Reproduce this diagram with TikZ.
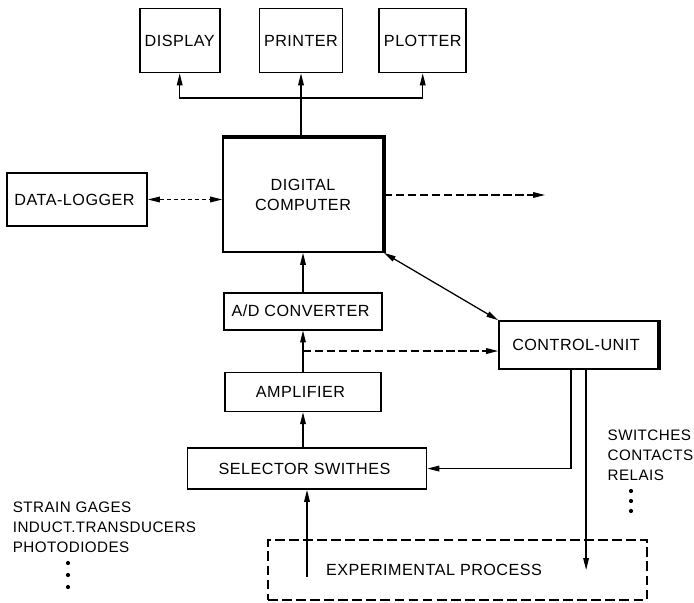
\documentclass[tikz,border=0pt]{standalone}
\usepackage{fontspec}
\setmainfont{Liberation Sans}[LetterSpace=3.0]
\usetikzlibrary{arrows.meta, positioning, calc}

\begin{document}
\begin{tikzpicture}[
    node distance=0.9cm,
    unit/.style={
        rectangle,
        draw,
        line width=1.2pt,
        align=center,
        font=\fontsize{11.5}{14.5}\selectfont
    },
    device/.style={
        unit,
        minimum width=2cm,
        minimum height=1.6cm
    },
    heavy/.style={line width=3pt},
    arrow/.style={-{Triangle[length=8.5pt,width=4pt]}, line width=0.9pt},
    twoway/.style={{Triangle[length=8.5pt,width=4pt]}-{Triangle[length=8.5pt,width=4pt]}, line width=0.9pt},
    signal/.style={arrow, dash pattern=on 6pt off 2.5pt},
    process/.style={
        rectangle,
        draw,
        line width=1.3pt,
        dash pattern=on 7pt off 3pt,
        minimum width=9.475cm,
        minimum height=1.5cm
    },
    note/.style={align=left, anchor=west, inner xsep=1pt, font=\fontsize{10.8}{14.2}\selectfont}
]
\useasboundingbox (0,0) rectangle (17.35,-15.075);

\node[device] (printer) at (7.525,-1.0125) {PRINTER};
\node[device, left=0.95cm of printer] (display) {DISPLAY};
\node[device, right=0.875cm of printer] (plotter) {PLOTTER};
\coordinate (bus) at (0,-2.45);

\node[unit, minimum width=4cm, minimum height=2.85cm] (computer) at (7.575,-4.875) {
DIGITAL\\COMPUTER
};
\node[unit, minimum width=3.5cm, minimum height=1.325cm] (logger) at (1.925,-4.9875) {
DATA-LOGGER
};
\coordinate (output) at (13.625,-4.875);

\node[unit, minimum width=3.95cm, minimum height=0.925cm, below=0.975cm of computer] (converter) {
A/D CONVERTER
};
\node[unit, minimum width=3.9cm, minimum height=0.975cm, below=1.025cm of converter] (amplifier) {
AMPLIFIER
};
\node[unit, minimum width=5.975cm, minimum height=1.025cm, below=0.875cm of amplifier, xshift=0.1cm] (selector) {
SELECTOR SWITHES
};
\node[unit, minimum width=3.975cm, minimum height=1.2cm] (controller) at (14.4625,-8.625) {
CONTROL-UNIT
};

\node[process] (process) at (11.4375,-14.25) {};
\node[font=\fontsize{11.5}{14.5}\selectfont] (processlabel) at (10.85,-14.25) {EXPERIMENTAL PROCESS};

\node[note] (contacts) at (15.15,-11.375) {
SWITCHES\\CONTACTS\\RELAIS
};
\node[note] (sensors) at (0.28,-13.175) {
STRAIN GAGES\\INDUCT.TRANSDUCERS\\PHOTODIODES
};
\foreach \y in {-12.275,-12.525,-12.775}
    \fill (15.775,\y) circle (1.5pt);
\foreach \y in {-14.075,-14.375,-14.675}
    \fill (1.7,\y) circle (1.5pt);

\draw[heavy] (computer.north west) -| (computer.south east);
\draw[heavy] (controller.north east) -- (controller.south east);

\draw[arrow] (printer.south |- computer.north) -- (printer.south);
\draw[arrow] (printer.south |- bus) -| (display.south);
\draw[arrow] (printer.south |- bus) -| (plotter.south);
\draw[twoway, densely dashed] (logger.east) -- (logger.east -| computer.west);
\draw[signal] (computer.east) -- (output);
\draw[arrow] (converter.north) -- (converter.north |- computer.south);
\draw[arrow] (amplifier.north) -- (converter.south);
\coordinate (tap) at ($(amplifier.north)!0.5!(converter.south)$);
\draw[signal] (tap) -- (tap -| controller.west);
\draw[twoway] (computer.south east) -- (controller.north west);
\draw[arrow] (selector.north -| amplifier.south) -- (amplifier.south);
\coordinate (ctrlleft) at ([xshift=-0.19cm]controller.south);
\coordinate (ctrlright) at ([xshift=0.19cm]controller.south);
\draw[arrow] (ctrlleft) |- (selector.east);
\draw[arrow] (ctrlright) -- (ctrlright |- processlabel);
\coordinate (source) at ([yshift=-0.175cm]process.center);
\draw[arrow] (source -| selector.south) -- (selector.south);

\end{tikzpicture}
\end{document}
